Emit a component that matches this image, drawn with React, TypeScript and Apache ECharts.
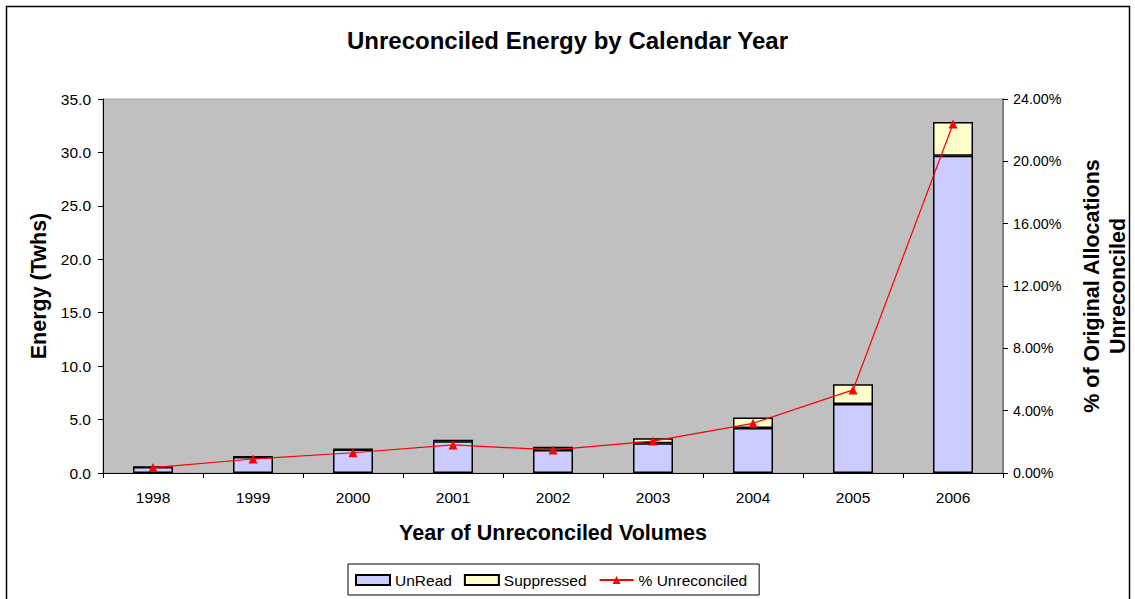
import React, { useEffect, useRef } from "react";
import * as echarts from "echarts";

const years = ["1998", "1999", "2000", "2001", "2002", "2003", "2004", "2005", "2006"];
const unread = [0.55, 1.5, 2.2, 2.97, 2.15, 2.78, 4.2, 6.45, 29.7];
const suppressed = [0.0, 0.02, 0.03, 0.15, 0.3, 0.47, 1.0, 1.85, 3.15];
const pctUnreconciled = [0.35, 0.9, 1.3, 1.8, 1.48, 2.05, 3.19, 5.33, 22.4];

const FONT = "'Liberation Sans', Arial, sans-serif";

export default function App() {
  const ref = useRef<HTMLDivElement>(null);
  useEffect(() => {
    if (!ref.current) return;
    const chart = echarts.init(ref.current, null, { renderer: "svg" });
    chart.setOption({
      animation: false,
      backgroundColor: "#ffffff",
      textStyle: { fontFamily: FONT, color: "#000" },
      title: {
        text: "Unreconciled Energy by Calendar Year",
        left: "center",
        top: 23,
        textStyle: { fontFamily: FONT, fontSize: 24, fontWeight: "bold", color: "#000" },
      },
      graphic: [
        {
          type: "rect",
          shape: { x: 6.5, y: 6.5, width: 1123, height: 600 },
          style: { fill: "none", stroke: "#000", lineWidth: 1.5 },
          silent: true,
          z: -1,
        },
      ],
      grid: {
        left: 103,
        right: 132,
        top: 99,
        bottom: 126,
        containLabel: false,
        outerBoundsMode: "none",
        show: true,
        backgroundColor: "#C0C0C0",
        borderWidth: 1,
        borderColor: "#A0A0A0",
      },
      legend: {
        top: 564,
        left: 348,
        itemGap: 12,
        padding: [8, 12, 7, 7],
        borderColor: "#000",
        borderWidth: 1,
        borderRadius: 0,
        itemWidth: 34,
        itemHeight: 10,
        textStyle: { fontFamily: FONT, fontSize: 15.5, color: "#000" },
        data: [
          { name: "UnRead", icon: "rect" },
          { name: "Suppressed", icon: "rect" },
          { name: "% Unreconciled" },
        ],
      },
      xAxis: {
        type: "category",
        data: years,
        boundaryGap: true,
        name: "Year of Unreconciled Volumes",
        nameLocation: "middle",
        nameGap: 49,
        nameTextStyle: { fontFamily: FONT, fontSize: 21.5, fontWeight: "bold", color: "#000" },
        axisLine: { lineStyle: { color: "#000", width: 1 } },
        axisTick: { show: true, alignWithLabel: false, length: 5, lineStyle: { color: "#000" } },
        axisLabel: { fontFamily: FONT, fontSize: 15.5, color: "#000", margin: 16 },
      },
      yAxis: [
        {
          type: "value",
          min: 0,
          max: 35,
          interval: 5,
          name: "Energy (Twhs)",
          nameLocation: "middle",
          nameGap: 52,
          nameRotate: 90,
          nameTextStyle: { fontFamily: FONT, fontSize: 21.5, fontWeight: "bold", color: "#000" },
          axisLine: { show: true, lineStyle: { color: "#000", width: 1 } },
          axisTick: { show: true, length: 5, lineStyle: { color: "#000" } },
          axisLabel: {
            fontFamily: FONT,
            fontSize: 15.5,
            color: "#000",
            margin: 12,
            formatter: (v: number) => v.toFixed(1),
          },
          splitLine: { show: false },
        },
        {
          type: "value",
          min: 0,
          max: 24,
          interval: 4,
          position: "right",
          name: "% of Original Allocations\nUnreconciled",
          nameLocation: "middle",
          nameGap: 76,
          nameRotate: 90,
          nameTextStyle: {
            fontFamily: FONT,
            fontSize: 21.5,
            fontWeight: "bold",
            color: "#000",
            lineHeight: 26,
          },
          axisLine: { show: true, lineStyle: { color: "#808080", width: 2 } },
          axisTick: { show: true, length: 5, lineStyle: { color: "#000" } },
          axisLabel: {
            fontFamily: FONT,
            fontSize: 14.3,
            color: "#000",
            margin: 10,
            formatter: (v: number) => v.toFixed(2) + "%",
          },
          splitLine: { show: false },
        },
      ],
      series: [
        {
          name: "UnRead",
          type: "bar",
          stack: "energy",
          barWidth: 40,
          data: unread,
          itemStyle: { color: "#CCCCFF", borderColor: "#000", borderWidth: 1.5 },
        },
        {
          name: "Suppressed",
          type: "bar",
          stack: "energy",
          barWidth: 40,
          data: suppressed,
          itemStyle: { color: "#FFFFCC", borderColor: "#000", borderWidth: 1.5 },
        },
        {
          name: "% Unreconciled",
          type: "line",
          yAxisIndex: 1,
          data: pctUnreconciled,
          symbol: "triangle",
          symbolSize: 9,
          lineStyle: { color: "#FF0000", width: 1.2 },
          itemStyle: { color: "#FF0000" },
          z: 5,
        },
      ],
    });
    return () => chart.dispose();
  }, []);
  return (
    <div
      ref={ref}
      style={{ position: "fixed", left: 0, top: 0, width: 1135, height: 599 }}
    />
  );
}
